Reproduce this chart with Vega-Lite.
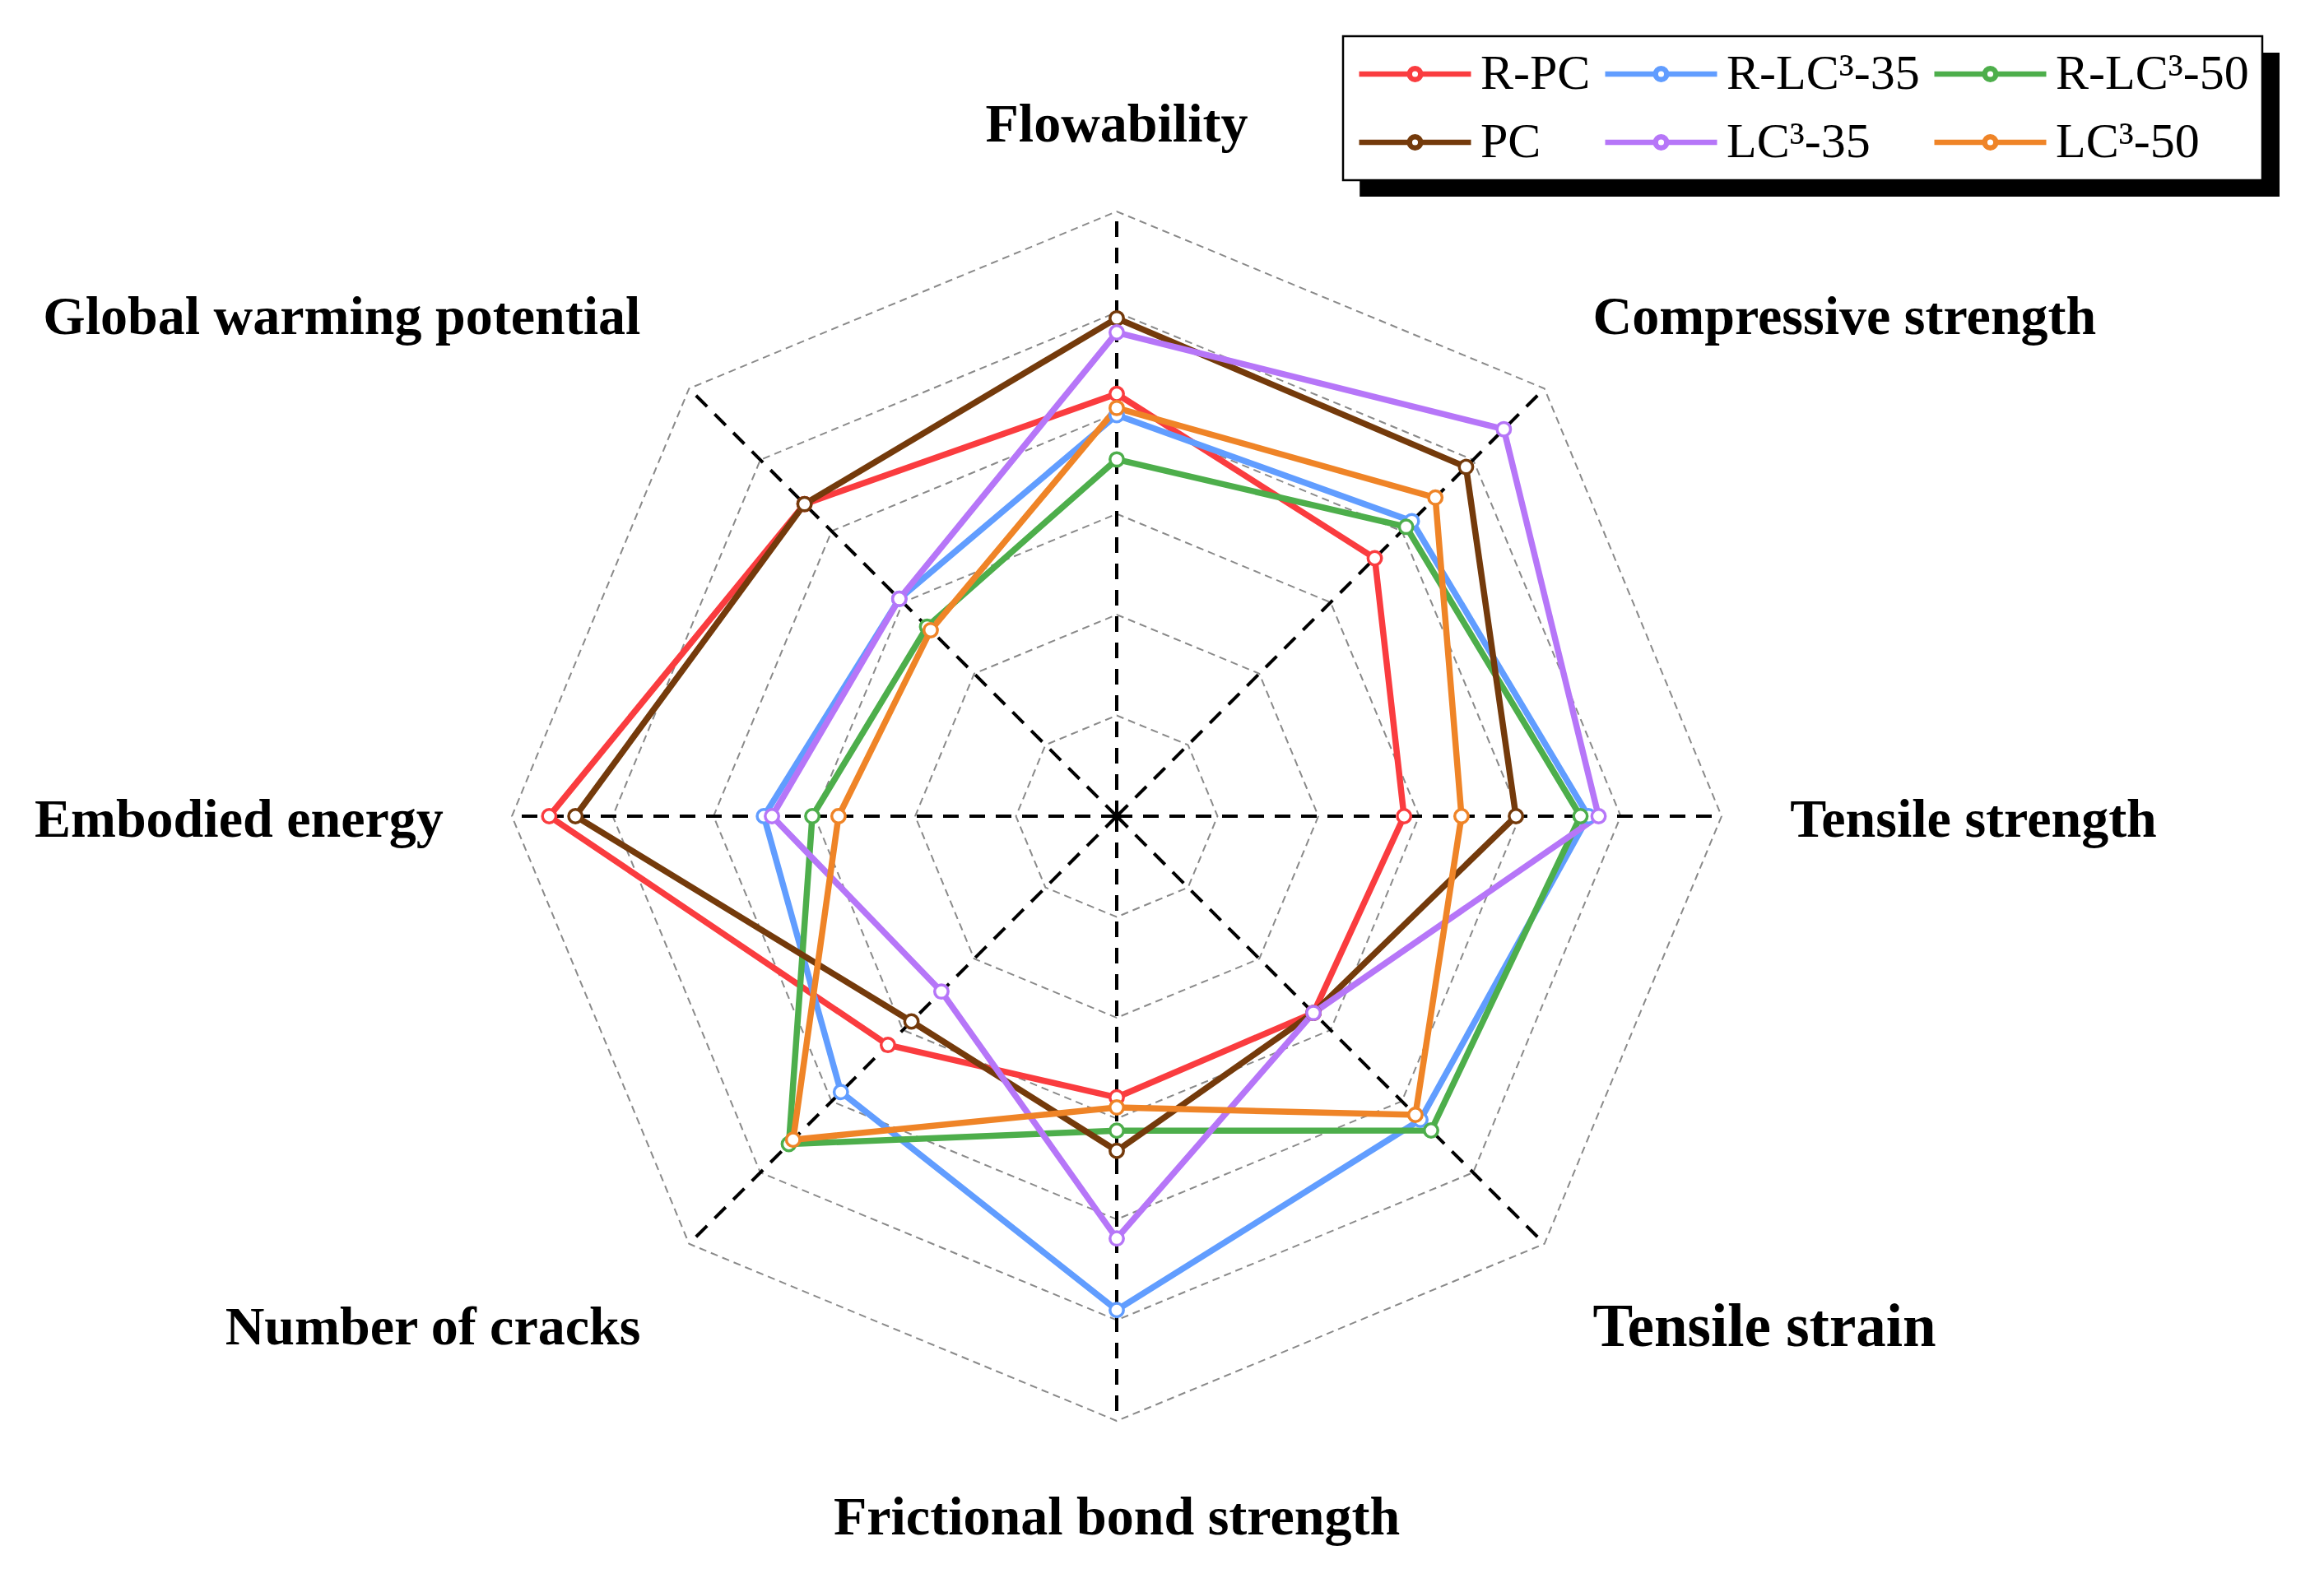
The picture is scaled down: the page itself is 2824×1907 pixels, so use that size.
{
  "$schema": "https://vega.github.io/schema/vega-lite/v6.json",
  "width": 2824,
  "height": 1907,
  "autosize": {"type": "none"},
  "padding": 0,
  "background": "white",
  "config": {"view": {"stroke": null}},
  "datasets": {
    "axes": [
      {"axis": "Flowability", "levels": [1, 2, 3, 4, 5, 6]},
      {"axis": "Compressive strength", "levels": [1, 2, 3, 4, 5, 6]},
      {"axis": "Tensile strength", "levels": [1, 2, 3, 4, 5, 6]},
      {"axis": "Tensile strain", "levels": [1, 2, 3, 4, 5, 6]},
      {"axis": "Frictional bond strength", "levels": [1, 2, 3, 4, 5, 6]},
      {"axis": "Number of cracks", "levels": [1, 2, 3, 4, 5, 6]},
      {"axis": "Embodied energy", "levels": [1, 2, 3, 4, 5, 6]},
      {"axis": "Global warming potential", "levels": [1, 2, 3, 4, 5, 6]}
    ],
    "scores": [
      {"mix": "R-PC", "axis": "Flowability", "value": 4.19},
      {"mix": "R-PC", "axis": "Compressive strength", "value": 3.62},
      {"mix": "R-PC", "axis": "Tensile strength", "value": 2.85},
      {"mix": "R-PC", "axis": "Tensile strain", "value": 2.76},
      {"mix": "R-PC", "axis": "Frictional bond strength", "value": 2.79},
      {"mix": "R-PC", "axis": "Number of cracks", "value": 3.21},
      {"mix": "R-PC", "axis": "Embodied energy", "value": 5.63},
      {"mix": "R-PC", "axis": "Global warming potential", "value": 4.38},
      {"mix": "R-LC³-35", "axis": "Flowability", "value": 3.98},
      {"mix": "R-LC³-35", "axis": "Compressive strength", "value": 4.14},
      {"mix": "R-LC³-35", "axis": "Tensile strength", "value": 4.68},
      {"mix": "R-LC³-35", "axis": "Tensile strain", "value": 4.26},
      {"mix": "R-LC³-35", "axis": "Frictional bond strength", "value": 4.9},
      {"mix": "R-LC³-35", "axis": "Number of cracks", "value": 3.87},
      {"mix": "R-LC³-35", "axis": "Embodied energy", "value": 3.5},
      {"mix": "R-LC³-35", "axis": "Global warming potential", "value": 3.05},
      {"mix": "R-LC³-50", "axis": "Flowability", "value": 3.54},
      {"mix": "R-LC³-50", "axis": "Compressive strength", "value": 4.06},
      {"mix": "R-LC³-50", "axis": "Tensile strength", "value": 4.6},
      {"mix": "R-LC³-50", "axis": "Tensile strain", "value": 4.41},
      {"mix": "R-LC³-50", "axis": "Frictional bond strength", "value": 3.12},
      {"mix": "R-LC³-50", "axis": "Number of cracks", "value": 4.6},
      {"mix": "R-LC³-50", "axis": "Embodied energy", "value": 3.02},
      {"mix": "R-LC³-50", "axis": "Global warming potential", "value": 2.66},
      {"mix": "PC", "axis": "Flowability", "value": 4.94},
      {"mix": "PC", "axis": "Compressive strength", "value": 4.9},
      {"mix": "PC", "axis": "Tensile strength", "value": 3.96},
      {"mix": "PC", "axis": "Tensile strain", "value": 2.76},
      {"mix": "PC", "axis": "Frictional bond strength", "value": 3.32},
      {"mix": "PC", "axis": "Number of cracks", "value": 2.88},
      {"mix": "PC", "axis": "Embodied energy", "value": 5.37},
      {"mix": "PC", "axis": "Global warming potential", "value": 4.38},
      {"mix": "LC³-35", "axis": "Flowability", "value": 4.8},
      {"mix": "LC³-35", "axis": "Compressive strength", "value": 5.43},
      {"mix": "LC³-35", "axis": "Tensile strength", "value": 4.78},
      {"mix": "LC³-35", "axis": "Tensile strain", "value": 2.76},
      {"mix": "LC³-35", "axis": "Frictional bond strength", "value": 4.19},
      {"mix": "LC³-35", "axis": "Number of cracks", "value": 2.46},
      {"mix": "LC³-35", "axis": "Embodied energy", "value": 3.42},
      {"mix": "LC³-35", "axis": "Global warming potential", "value": 3.05},
      {"mix": "LC³-50", "axis": "Flowability", "value": 4.05},
      {"mix": "LC³-50", "axis": "Compressive strength", "value": 4.47},
      {"mix": "LC³-50", "axis": "Tensile strength", "value": 3.42},
      {"mix": "LC³-50", "axis": "Tensile strain", "value": 4.19},
      {"mix": "LC³-50", "axis": "Frictional bond strength", "value": 2.89},
      {"mix": "LC³-50", "axis": "Number of cracks", "value": 4.54},
      {"mix": "LC³-50", "axis": "Embodied energy", "value": 2.76},
      {"mix": "LC³-50", "axis": "Global warming potential", "value": 2.61}
    ]
  },
  "layer": [
    {
      "data": {"values": [{"shadow": "legend"}]},
      "mark": {"type": "rect", "color": "black"},
      "encoding": {
        "x": {"datum": 2.41, "type": "quantitative", "scale": {"domain": [-11.078, 11.976], "nice": false, "zero": false}, "axis": null},
        "x2": {"datum": 11.535},
        "y": {"datum": 7.576, "type": "quantitative", "scale": {"domain": [-7.469, 8.098], "nice": false, "zero": false}, "axis": null},
        "y2": {"datum": 6.147}
      }
    },
    {
      "data": {"name": "axes"},
      "transform": [
        {"flatten": ["levels"], "as": ["level"]},
        {"calculate": "indexof(['Flowability','Compressive strength','Tensile strength','Tensile strain','Frictional bond strength','Number of cracks','Embodied energy','Global warming potential'], datum.axis) * PI / 4", "as": "ang"},
        {"calculate": "datum.level * sin(datum.ang)", "as": "gx"},
        {"calculate": "datum.level * cos(datum.ang)", "as": "gy"}
      ],
      "mark": {"type": "line", "interpolate": "linear-closed", "color": "#8a8a8a", "strokeWidth": 2, "strokeDash": [9, 6]},
      "encoding": {
        "x": {"field": "gx", "type": "quantitative", "scale": {"domain": [-11.078, 11.976], "nice": false, "zero": false}, "axis": null},
        "y": {"field": "gy", "type": "quantitative", "scale": {"domain": [-7.469, 8.098], "nice": false, "zero": false}, "axis": null},
        "detail": {"field": "level", "type": "nominal"},
        "order": {"field": "ang", "type": "quantitative"}
      }
    },
    {
      "data": {"name": "axes"},
      "transform": [
        {"calculate": "indexof(['Flowability','Compressive strength','Tensile strength','Tensile strain','Frictional bond strength','Number of cracks','Embodied energy','Global warming potential'], datum.axis) * PI / 4", "as": "ang"},
        {"calculate": "0", "as": "cx"},
        {"calculate": "6 * sin(datum.ang)", "as": "ox"},
        {"calculate": "6 * cos(datum.ang)", "as": "oy"}
      ],
      "mark": {"type": "rule", "color": "black", "strokeWidth": 4, "strokeDash": [19, 13]},
      "encoding": {
        "x": {"field": "cx", "type": "quantitative", "scale": {"domain": [-11.078, 11.976], "nice": false, "zero": false}, "axis": null},
        "y": {"field": "cx", "type": "quantitative", "scale": {"domain": [-7.469, 8.098], "nice": false, "zero": false}, "axis": null},
        "x2": {"field": "ox"},
        "y2": {"field": "oy"}
      }
    },
    {
      "data": {"name": "scores"},
      "transform": [
        {"calculate": "indexof(['Flowability','Compressive strength','Tensile strength','Tensile strain','Frictional bond strength','Number of cracks','Embodied energy','Global warming potential'], datum.axis) * PI / 4", "as": "ang"},
        {"calculate": "datum.value * sin(datum.ang)", "as": "px"},
        {"calculate": "datum.value * cos(datum.ang)", "as": "py"}
      ],
      "mark": {"type": "line", "interpolate": "linear-closed", "strokeWidth": 7.5},
      "encoding": {
        "x": {"field": "px", "type": "quantitative", "scale": {"domain": [-11.078, 11.976], "nice": false, "zero": false}, "axis": null},
        "y": {"field": "py", "type": "quantitative", "scale": {"domain": [-7.469, 8.098], "nice": false, "zero": false}, "axis": null},
        "order": {"field": "ang", "type": "quantitative"},
        "color": {
          "field": "mix",
          "type": "nominal",
          "scale": {
            "domain": ["R-PC", "R-LC³-35", "R-LC³-50", "PC", "LC³-35", "LC³-50"],
            "range": ["#FA3C3F", "#619DFF", "#4DAE4B", "#743A0B", "#B676F8", "#EF8427"]
          },
          "legend": {
            "title": null,
            "orient": "none",
            "legendX": 1632,
            "legendY": 44,
            "columns": 3,
            "direction": "horizontal",
            "symbolType": "M-1,0L-0.1,0M0.1,0L1,0M-0.1,0A0.1,0.1 0 1,0 0.1,0A0.1,0.1 0 1,0 -0.1,0",
            "symbolSize": 18496,
            "symbolStrokeWidth": 6,
            "symbolFillColor": "white",
            "symbolOpacity": 1,
            "clipHeight": 60,
            "labelFont": "Liberation Serif",
            "labelFontSize": 60,
            "labelColor": "black",
            "labelOffset": 8,
            "labelLimit": 0,
            "columnPadding": 14,
            "rowPadding": 23,
            "padding": 16,
            "strokeColor": "black",
            "fillColor": "white",
            "encode": {
              "legend": {"update": {"strokeWidth": {"value": 2.5}}},
              "symbols": {"update": {"fill": {"value": "white"}, "strokeWidth": {"value": 6.5}, "opacity": {"value": 1}}}
            }
          }
        }
      }
    },
    {
      "data": {"name": "scores"},
      "transform": [
        {"calculate": "indexof(['Flowability','Compressive strength','Tensile strength','Tensile strain','Frictional bond strength','Number of cracks','Embodied energy','Global warming potential'], datum.axis) * PI / 4", "as": "ang"},
        {"calculate": "datum.value * sin(datum.ang)", "as": "px"},
        {"calculate": "datum.value * cos(datum.ang)", "as": "py"}
      ],
      "mark": {"type": "point", "shape": "circle", "filled": false, "fill": "white", "fillOpacity": 1, "opacity": 1, "strokeWidth": 3.5, "size": 270},
      "encoding": {
        "x": {"field": "px", "type": "quantitative", "scale": {"domain": [-11.078, 11.976], "nice": false, "zero": false}, "axis": null},
        "y": {"field": "py", "type": "quantitative", "scale": {"domain": [-7.469, 8.098], "nice": false, "zero": false}, "axis": null},
        "color": {"field": "mix", "type": "nominal", "legend": null}
      }
    },
    {
      "data": {"name": "axes"},
      "transform": [
        {"calculate": "indexof(['Flowability','Compressive strength','Tensile strength','Tensile strain','Frictional bond strength','Number of cracks','Embodied energy','Global warming potential'], datum.axis) * PI / 4", "as": "ang"},
        {"calculate": "cos(datum.ang) > 0.9 ? 6.9 : (cos(datum.ang) > 0.1 ? 7.05 : (cos(datum.ang) > -0.9 ? 7.12 : 6.92))", "as": "ry"},
        {"calculate": "6.68 * sin(datum.ang)", "as": "lx"},
        {"calculate": "datum.ry * cos(datum.ang) - 0.04", "as": "ly"},
        {"calculate": "sin(datum.ang) > 0.5 ? 'left' : (sin(datum.ang) < -0.5 ? 'right' : 'center')", "as": "side"}
      ],
      "layer": [
        {
          "transform": [{"filter": "datum.side === 'left'"}],
          "mark": {"type": "text", "align": "left", "baseline": "middle", "font": "Liberation Serif", "fontWeight": "bold", "color": "black"},
          "encoding": {
            "x": {"field": "lx", "type": "quantitative", "scale": {"domain": [-11.078, 11.976], "nice": false, "zero": false}, "axis": null},
            "y": {"field": "ly", "type": "quantitative", "scale": {"domain": [-7.469, 8.098], "nice": false, "zero": false}, "axis": null},
            "text": {"field": "axis"},
            "size": {"condition": {"test": "datum.axis === 'Tensile strain'", "value": 73}, "value": 66}
          }
        },
        {
          "transform": [{"filter": "datum.side === 'right'"}],
          "mark": {"type": "text", "align": "right", "baseline": "middle", "font": "Liberation Serif", "fontWeight": "bold", "color": "black", "fontSize": 66},
          "encoding": {
            "x": {"field": "lx", "type": "quantitative", "scale": {"domain": [-11.078, 11.976], "nice": false, "zero": false}, "axis": null},
            "y": {"field": "ly", "type": "quantitative", "scale": {"domain": [-7.469, 8.098], "nice": false, "zero": false}, "axis": null},
            "text": {"field": "axis"}
          }
        },
        {
          "transform": [{"filter": "datum.side === 'center'"}],
          "mark": {"type": "text", "align": "center", "baseline": "middle", "font": "Liberation Serif", "fontWeight": "bold", "color": "black", "fontSize": 66},
          "encoding": {
            "x": {"field": "lx", "type": "quantitative", "scale": {"domain": [-11.078, 11.976], "nice": false, "zero": false}, "axis": null},
            "y": {"field": "ly", "type": "quantitative", "scale": {"domain": [-7.469, 8.098], "nice": false, "zero": false}, "axis": null},
            "text": {"field": "axis"}
          }
        }
      ]
    }
  ]
}
